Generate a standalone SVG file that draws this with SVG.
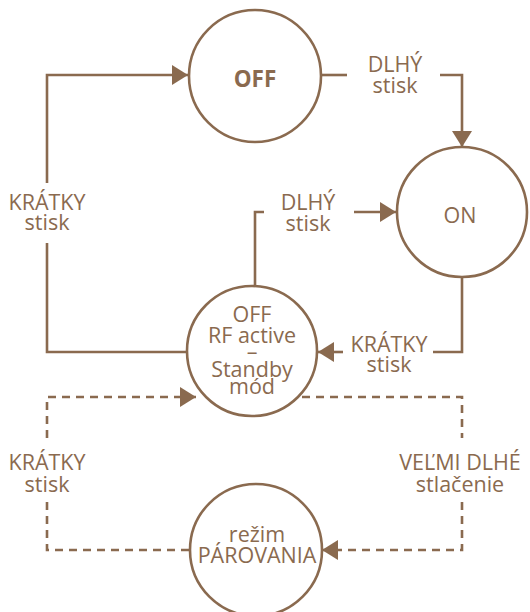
<svg xmlns="http://www.w3.org/2000/svg" width="530" height="612" viewBox="0 0 530 612">
<style>
.n{fill:none;stroke:#8a6a4f;stroke-width:2.6}
.c{fill:none;stroke:#8a6a4f;stroke-width:2.6}
.d{stroke-dasharray:8 6}
text{font-family:"Open Sans","Liberation Sans",sans-serif;font-size:21.5px;fill:#8a6a4f;text-anchor:middle}
.b{font-weight:bold;font-size:22.5px}
</style>
<defs>
<marker id="ah" viewBox="0 0 16 20" refX="16" refY="10" markerWidth="16" markerHeight="20" markerUnits="userSpaceOnUse" orient="auto">
<path d="M0,0 L16,10 L0,20 Z" fill="#8a6a4f"/>
</marker>
</defs>
<rect width="530" height="612" fill="#fff"/>
<g id="connectors">
<path class="c" d="M322,75 H347"/>
<path class="c" d="M440,75 H462 V147" marker-end="url(#ah)"/>
<path class="c" d="M187,352 H47 V243"/>
<path class="c" d="M47,183 V75 H188" marker-end="url(#ah)"/>
<path class="c" d="M255,286 V212 H264"/>
<path class="c" d="M354,212 H396" marker-end="url(#ah)"/>
<path class="c" d="M462,277 V352 H433"/>
<path class="c" d="M343,352 H318" marker-end="url(#ah)"/>
<path class="c d" d="M189,550 H47 V502"/>
<path class="c d" d="M47,438 V397 H196" marker-end="url(#ah)"/>
<path class="c d" d="M302,397 H462 V438"/>
<path class="c d" d="M462,502 V550 H322" marker-end="url(#ah)"/>
<text x="395" y="72">DLHÝ</text><text x="395" y="93">stisk</text>
<text x="47" y="210">KRÁTKY</text><text x="47" y="230">stisk</text>
<text x="308" y="210">DLHÝ</text><text x="308" y="231">stisk</text>
<text x="389" y="352">KRÁTKY</text><text x="389" y="372">stisk</text>
<text x="47" y="470">KRÁTKY</text><text x="47" y="492">stisk</text>
<text x="460" y="470">VEĽMI DLHÉ</text><text x="460" y="492">stlačenie</text>
</g>
<g id="off"><circle class="n" cx="255" cy="76" r="66"/><text class="b" x="255" y="87">OFF</text></g>
<g id="on"><circle class="n" cx="462" cy="212" r="65"/><text x="460" y="223">ON</text></g>
<g id="standby"><circle class="n" cx="252" cy="351" r="65"/>
<text x="252" y="322">OFF</text><text x="252" y="343">RF active</text><text x="252" y="359">–</text><text x="252" y="377">Standby</text><text x="252" y="394">mód</text></g>
<g id="pairing"><circle class="n" cx="256" cy="550" r="66"/>
<text x="257" y="542">režim</text><text x="257" y="563">PÁROVANIA</text></g>
</svg>
